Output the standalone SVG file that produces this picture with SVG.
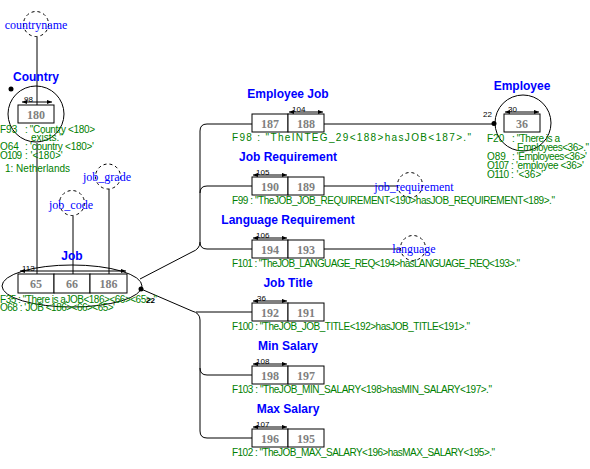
<svg xmlns="http://www.w3.org/2000/svg" width="590" height="469" viewBox="0 0 590 469">
<style>
.t{font-family:"Liberation Sans",Arial,sans-serif;font-weight:bold;font-size:12px;fill:#0000ff;text-anchor:middle}
.f{font-family:"Liberation Sans",Arial,sans-serif;font-size:10px;fill:#008000}
.n{font-family:"Liberation Serif","Times New Roman",serif;font-weight:bold;font-size:12px;fill:#808080;text-anchor:middle}
.v{font-family:"Liberation Serif","Times New Roman",serif;font-size:12px;fill:#0000ff;text-anchor:middle}
.k{font-family:"Liberation Sans",Arial,sans-serif;font-size:8px;fill:#000}
.box{fill:#fff;stroke:#000;stroke-width:1}
.c{fill:none;stroke:#000;stroke-width:1}
.d{fill:none;stroke:#000;stroke-width:1;stroke-dasharray:3,3}
.a{stroke:#000;stroke-width:1;marker-start:url(#ah);marker-end:url(#ah)}
.dot{fill:#000}
</style>
<defs>
<marker id="ah" viewBox="0 0 6 6" refX="6" refY="3" markerWidth="5" markerHeight="5" orient="auto-start-reverse" markerUnits="userSpaceOnUse">
<path d="M0,0.5 L6,3 L0,5.5 z" fill="#000"/>
</marker>
</defs>
<rect width="590" height="469" fill="#fff"/>

<g id="connectors">
<path class="c" d="M37,37 L37,105"/>
<path class="c" d="M37,143 L37,274"/>
<path class="c" d="M73,216 L73,274"/>
<path class="c" d="M109,189 L109,274"/>
<path class="c" d="M140,279 L192,252 Q200,249 200,242 L200,131 Q200,124 207,124 L252,124"/>
<path class="c" d="M200,193 Q200,186 207,186 L252,186"/>
<path class="c" d="M200,242 Q200,249 207,249 L252,249"/>
<path class="c" d="M141,289 L192,311 Q200,313 200,320 L200,431 Q200,438 207,438 L252,438"/>
<path class="c" d="M196,312 L252,312"/>
<path class="c" d="M200,368 Q200,375 207,375 L252,375"/>
<path class="c" d="M324,124 L494,124"/>
<path class="c" d="M324,186 L398,186"/>
<path class="c" d="M324,249 L400,249"/>
</g>

<g id="countryname">
<circle class="d" cx="36" cy="24" r="12.5"/>
<text class="v" x="36" y="29">countryname</text>
</g>

<g id="country">
<text class="t" x="36" y="81">Country</text>
<circle class="c" cx="36" cy="114" r="28"/>
<circle class="dot" cx="11" cy="89" r="2.5"/>
<rect class="box" x="18" y="105" width="36" height="18"/>
<text class="n" x="36" y="119">180</text>
<line class="a" x1="22" y1="102" x2="52" y2="102"/>
<text class="k" x="24" y="102">98</text>
<text class="f" y="132.5"><tspan x="0">F93</tspan><tspan x="25" textLength="70">: "Country &lt;180&gt;</tspan></text>
<text class="f" x="31" y="140.5">exists."</text>
<text class="f" y="150"><tspan x="0">O64</tspan><tspan x="25" textLength="69">: 'country &lt;180&gt;'</tspan></text>
<text class="f" y="158.5"><tspan x="0" textLength="22">O109</tspan><tspan x="25">: '&lt;180&gt;'</tspan></text>
<text class="f" x="5" y="171.5">1:  Netherlands</text>
</g>

<g id="job_grade">
<circle class="d" cx="108" cy="176.5" r="12.5"/>
<text class="v" x="107" y="181">job_grade</text>
</g>

<g id="job_code">
<circle class="d" cx="72" cy="203" r="12.5"/>
<text class="v" x="71" y="209">job_code</text>
</g>

<g id="job">
<text class="t" x="72" y="260">Job</text>
<ellipse class="c" cx="72" cy="286" rx="70" ry="21"/>
<rect class="box" x="18" y="274" width="36" height="19"/>
<rect class="box" x="54" y="274" width="36" height="19"/>
<rect class="box" x="90" y="274" width="37" height="19"/>
<text class="n" x="36" y="288">65</text>
<text class="n" x="72" y="288">66</text>
<text class="n" x="108.5" y="288">186</text>
<line class="a" x1="20" y1="271" x2="126" y2="271"/>
<text class="k" x="22" y="271">113</text>
<circle class="dot" cx="141" cy="289" r="2.5"/>
<text class="f" x="0" y="303" textLength="157">F35 : "There is aJOB&lt;186&gt;&lt;66&gt;&lt;65&gt;."</text>
<text class="f" x="0" y="311" textLength="115">O68 : 'JOB &lt;186&gt;&lt;66&gt;&lt;65&gt;'</text>
<text class="k" x="146" y="303" font-weight="bold">22</text>
</g>

<g id="employee_job">
<text class="t" x="288" y="98">Employee Job</text>
<rect class="box" x="252" y="114" width="36" height="18"/>
<rect class="box" x="288" y="114" width="36" height="18"/>
<text class="n" x="270" y="128">187</text>
<text class="n" x="306" y="128">188</text>
<line class="a" x1="289" y1="112" x2="323" y2="112"/>
<text class="k" x="292" y="112">104</text>
<text class="f" x="232" y="141" textLength="239">F98 : "TheINTEG_29&lt;188&gt;hasJOB&lt;187&gt;."</text>
</g>

<g id="employee">
<text class="t" x="522" y="90">Employee</text>
<circle class="c" cx="523" cy="123" r="28"/>
<rect class="box" x="504" y="114" width="36" height="18"/>
<text class="n" x="522" y="128">36</text>
<line class="a" x1="505" y1="112" x2="539" y2="112"/>
<text class="k" x="508" y="112">30</text>
<circle class="dot" cx="494" cy="123.5" r="2.5"/>
<text class="k" x="483" y="117">22</text>
<text class="f" y="141.5"><tspan x="487">F20</tspan><tspan x="512" textLength="48">: "There is a</tspan></text>
<text class="f" x="517" y="150.5" textLength="72">Employees&lt;36&gt;."</text>
<text class="f" y="159.5"><tspan x="487">O89</tspan><tspan x="512" textLength="75">: 'Employees&lt;36&gt;'</tspan></text>
<text class="f" y="168.5"><tspan x="487" textLength="22">O107</tspan><tspan x="511" textLength="73">: 'employee &lt;36&gt;'</tspan></text>
<text class="f" y="177.5"><tspan x="487" textLength="22">O110</tspan><tspan x="511">: '&lt;36&gt;'</tspan></text>
</g>

<g id="job_requirement">
<text class="t" x="288" y="161">Job Requirement</text>
<rect class="box" x="252" y="177" width="36" height="18"/>
<rect class="box" x="288" y="177" width="36" height="18"/>
<text class="n" x="270" y="191">190</text>
<text class="n" x="306" y="191">189</text>
<line class="a" x1="253" y1="175" x2="287" y2="175"/>
<text class="k" x="256" y="175">105</text>
<text class="f" x="232" y="204" textLength="323">F99 : "TheJOB_JOB_REQUIREMENT&lt;190&gt;hasJOB_REQUIREMENT&lt;189&gt;."</text>
</g>

<g id="job_requirement_value">
<circle class="d" cx="410" cy="185" r="12.5"/>
<text class="v" x="414" y="191">job_requirement</text>
</g>

<g id="language_requirement">
<text class="t" x="288" y="224">Language Requirement</text>
<rect class="box" x="252" y="240" width="36" height="18"/>
<rect class="box" x="288" y="240" width="36" height="18"/>
<text class="n" x="270" y="254">194</text>
<text class="n" x="306" y="254">193</text>
<line class="a" x1="253" y1="238" x2="287" y2="238"/>
<text class="k" x="256" y="238">106</text>
<text class="f" x="232" y="267" textLength="288">F101 : "TheJOB_LANGUAGE_REQ&lt;194&gt;hasLANGUAGE_REQ&lt;193&gt;."</text>
</g>

<g id="language">
<circle class="d" cx="413" cy="248" r="12.5"/>
<text class="v" x="414" y="253">language</text>
</g>

<g id="job_title">
<text class="t" x="288" y="287">Job Title</text>
<rect class="box" x="252" y="303" width="36" height="18"/>
<rect class="box" x="288" y="303" width="36" height="18"/>
<text class="n" x="270" y="317">192</text>
<text class="n" x="306" y="317">191</text>
<line class="a" x1="253" y1="301" x2="287" y2="301"/>
<text class="k" x="257" y="301">36</text>
<text class="f" x="232" y="330" textLength="238">F100 : "TheJOB_JOB_TITLE&lt;192&gt;hasJOB_TITLE&lt;191&gt;."</text>
</g>

<g id="min_salary">
<text class="t" x="288" y="350">Min Salary</text>
<rect class="box" x="252" y="366" width="36" height="18"/>
<rect class="box" x="288" y="366" width="36" height="18"/>
<text class="n" x="270" y="380">198</text>
<text class="n" x="306" y="380">197</text>
<line class="a" x1="253" y1="364" x2="287" y2="364"/>
<text class="k" x="256" y="364">108</text>
<text class="f" x="232" y="393" textLength="260">F103 : "TheJOB_MIN_SALARY&lt;198&gt;hasMIN_SALARY&lt;197&gt;."</text>
</g>

<g id="max_salary">
<text class="t" x="288" y="413">Max Salary</text>
<rect class="box" x="252" y="429" width="36" height="18"/>
<rect class="box" x="288" y="429" width="36" height="18"/>
<text class="n" x="270" y="443">196</text>
<text class="n" x="306" y="443">195</text>
<line class="a" x1="253" y1="427" x2="287" y2="427"/>
<text class="k" x="256" y="427">107</text>
<text class="f" x="232" y="456" textLength="263">F102 : "TheJOB_MAX_SALARY&lt;196&gt;hasMAX_SALARY&lt;195&gt;."</text>
</g>
</svg>
